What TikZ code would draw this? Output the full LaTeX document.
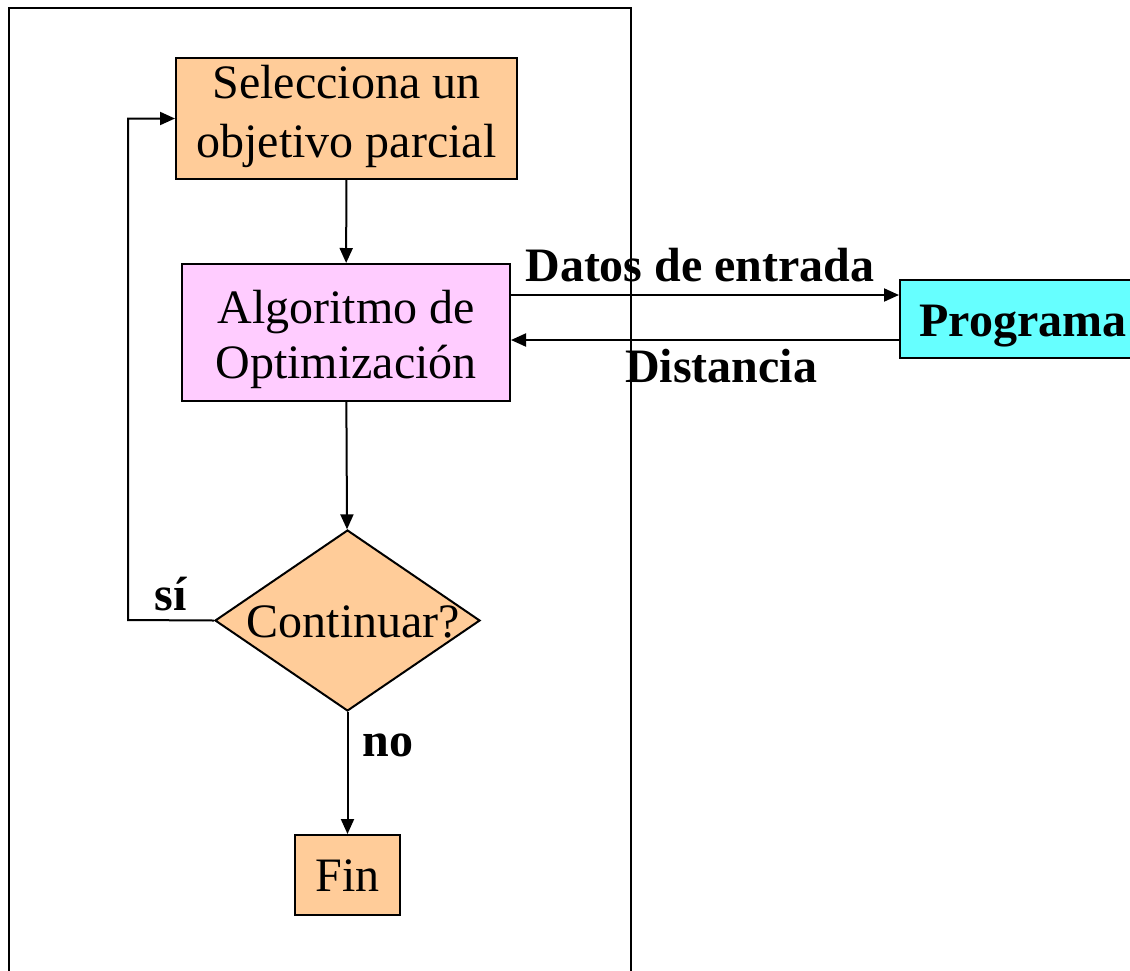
\documentclass[tikz,border=0pt]{standalone}
\usepackage{fontspec}
\setmainfont{Liberation Serif}
\usetikzlibrary{shapes.geometric,arrows.meta}
\definecolor{orangebox}{RGB}{255,204,153}
\definecolor{pinkbox}{RGB}{255,204,255}
\definecolor{cyanbox}{RGB}{102,255,255}
\begin{document}
\begin{tikzpicture}[x=1pt,y=-1pt,
  every node/.style={font=\fontsize{48}{58}\selectfont},
  box/.style={draw=black, line width=2pt, inner sep=0pt, align=center},
  txt/.style={font=\fontsize{48}{58}\selectfont, inner sep=0pt, align=center},
  arr/.style={line width=2pt, -{Triangle[length=15pt,width=13pt]}},
  lbl/.style={font=\fontsize{48}{60}\selectfont\bfseries, inner sep=0pt}]
\useasboundingbox (0,0) rectangle (1130,970);
% outer frame
\draw[line width=2pt] (9,975) -- (9,8) -- (631,8) -- (631,975);
% nodes
\node[box, fill=orangebox, minimum width=341pt, minimum height=121pt,
      label={[txt, yshift=2pt, font=\fontsize{48}{59}\selectfont]center:Selecciona un\\objetivo parcial}] (sel) at (346.5,118.5) {};
\node[box, fill=pinkbox, minimum width=328pt, minimum height=137pt,
      label={[txt, yshift=-7pt, font=\fontsize{48}{55}\selectfont]center:Algoritmo de\\Optimización}] (alg) at (346,332.5) {};
\node[diamond, draw=black, line width=2pt, fill=orangebox, inner sep=0pt, minimum width=265pt, minimum height=181pt,
      label={[txt, xshift=6pt, yshift=-1pt]center:Continuar?}] (dec) at (347.5,620.5) {};
\node[box, fill=orangebox, minimum width=105pt, minimum height=80pt,
      label={[txt, yshift=-1pt]center:Fin}] (fin) at (347.5,875) {};
\node[box, fill=cyanbox, minimum width=246pt, minimum height=78pt,
      label={[lbl, yshift=-7pt]center:Programa}] (prog) at (1023,319) {};
% helper coordinates
\coordinate (dy) at (700,295);
\coordinate (ry) at (700,340);
\coordinate (lx) at (128,620);
% connectors
\draw[arr] (sel) -- (alg);
\draw[arr] (alg) -- (dec);
\draw[arr] (dec) -- (fin);
\draw[arr] (alg.east |- dy) -- (prog.west |- dy);
\draw[arr] (prog.west |- ry) -- (alg.east |- ry);
\draw[arr] (dec.west) -- (lx) |- (sel.west);
% labels
\node[lbl] (ldatos) at (700,265) {Datos de entrada};
\node[lbl] (ldist) at (721,366) {Distancia};
\node[lbl] (lsi) at (171,594) {sí};
\node[lbl] (lno) at (388,745) {no};
\end{tikzpicture}
\end{document}
